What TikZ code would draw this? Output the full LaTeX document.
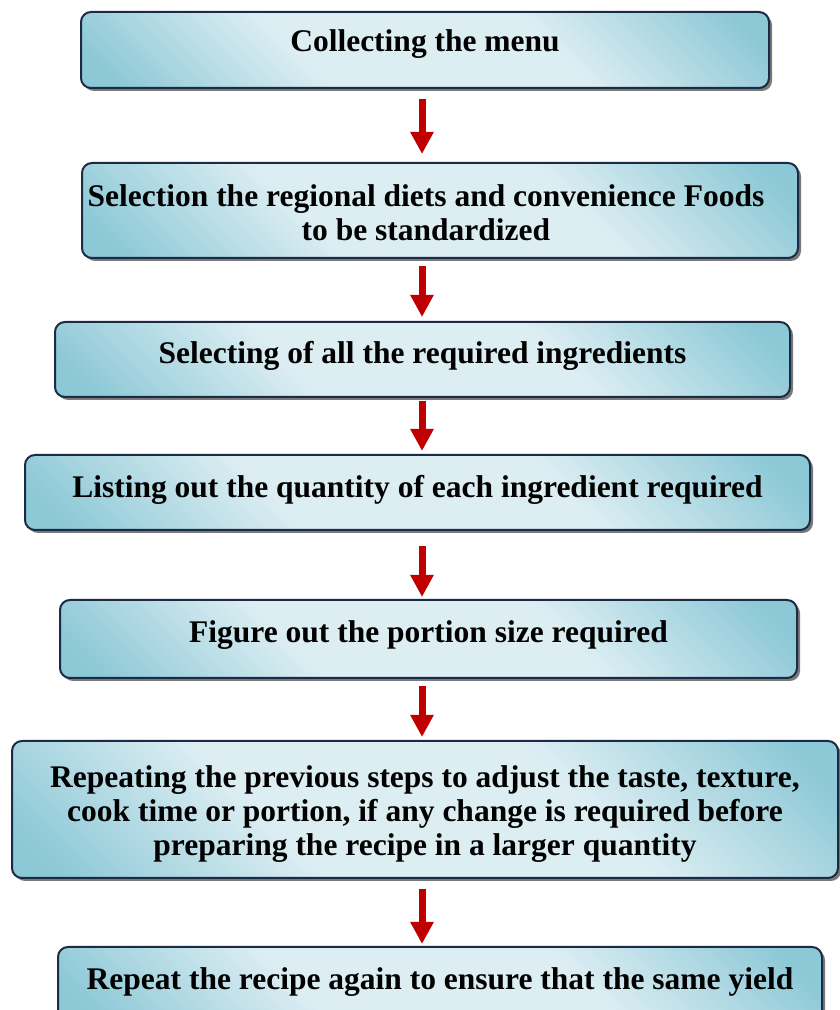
\documentclass[tikz,border=0pt]{standalone}
\usepackage{fontspec}
\setmainfont{Liberation Serif}
\usetikzlibrary{arrows.meta,shadows}
\definecolor{boxblue}{HTML}{8CC8D6}
\definecolor{boxlight}{HTML}{DDEEF3}
\definecolor{boxedge}{HTML}{1C2B45}
\definecolor{arrred}{HTML}{C00000}
% diagonal fill: blue corners, broad pale band through the middle
\pgfdeclareverticalshading{stepfill}{100bp}{%
  color(0bp)=(boxblue); color(18bp)=(boxblue);
  color(38bp)=(boxlight); color(62bp)=(boxlight);
  color(82bp)=(boxblue); color(100bp)=(boxblue)}
\tikzset{
  stepbox/.style={draw=boxedge, line width=2pt, rounded corners=10pt,
    shading=stepfill, shading angle=-45,
    drop shadow={shadow xshift=3pt, shadow yshift=-3pt, fill=black!65, opacity=0.8},
    align=center, inner sep=0pt,
    font=\fontsize{31.5}{34}\selectfont\bfseries},
  lift/.style={text height=22pt, text depth=#1},
  flowarr/.style={draw=arrred, line width=7pt,
    -{Triangle[width=22pt,length=22pt]}, color=arrred},
}
% extra room above the first line of a multi-line box
\newcommand{\topgap}[1]{\rule{0pt}{#1}}
\begin{document}
\begin{tikzpicture}[x=1pt,y=1pt]
\useasboundingbox (0,0) rectangle (840,1010);
\clip (0,0) rectangle (840,1010);
\coordinate (ax) at (422,0);
% process steps, top to bottom
\node[stepbox, lift=18pt, minimum width=688pt, minimum height=76pt] (b1) at (425,960)
  {Collecting the menu};
\node[stepbox, minimum width=716pt, minimum height=95pt] (b2) at (440,799.5)
  {\topgap{26pt}\hspace*{-28pt}Selection the regional diets and convenience Foods\\
   \hspace*{-28pt}to be standardized};
\node[stepbox, lift=14pt, minimum width=735pt, minimum height=75pt] (b3) at (422.5,650.5)
  {Selecting of all the required ingredients};
\node[stepbox, lift=12pt, minimum width=785pt, minimum height=75pt] (b4) at (417.5,517.5)
  {Listing out the quantity of each ingredient required};
\node[stepbox, lift=15pt, minimum width=737pt, minimum height=78pt] (b5) at (428.5,371)
  {Figure out the portion size required};
\node[stepbox, minimum width=826pt, minimum height=137pt] (b6) at (425,200.5)
  {\topgap{30pt}Repeating the previous steps to adjust the taste, texture,\\
   cook time or portion, if any change is required before\\
   preparing the recipe in a larger quantity};
\node[stepbox, lift=12pt, minimum width=764pt, minimum height=75pt] (b7) at (440,25.5)
  {Repeat the recipe again to ensure that the same yield};
% connectors
\draw[flowarr, shorten <=10pt, shorten >=8pt] (b1.south -| ax) -- (b2.north -| ax);
\draw[flowarr, shorten <=7pt, shorten >=4pt] (b2.south -| ax) -- (b3.north -| ax);
\draw[flowarr, shorten <=3pt, shorten >=3pt] (b3.south -| ax) -- (b4.north -| ax);
\draw[flowarr, shorten <=15pt, shorten >=2pt] (b4.south -| ax) -- (b5.north -| ax);
\draw[flowarr, shorten <=7pt, shorten >=3pt] (b5.south -| ax) -- (b6.north -| ax);
\draw[flowarr, shorten <=10pt, shorten >=2pt] (b6.south -| ax) -- (b7.north -| ax);
\end{tikzpicture}
\end{document}
